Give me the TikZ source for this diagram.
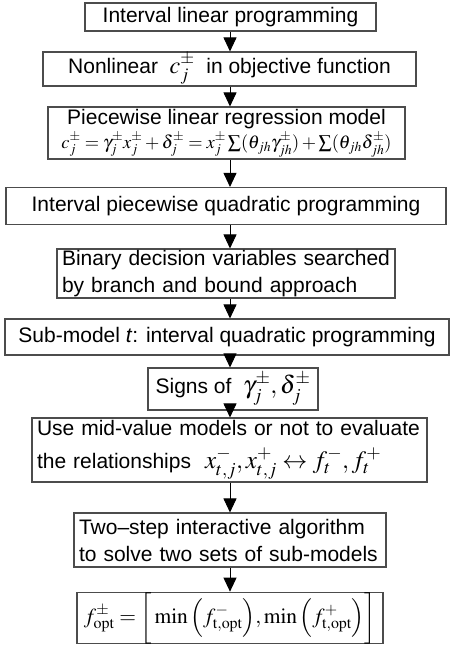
\documentclass[tikz,border=0pt]{standalone}
\usepackage{amsmath}
\usepackage{mathptmx}
\usepackage[no-math]{fontspec}
\setmainfont{Liberation Sans}
\usetikzlibrary{arrows.meta}

% larger maths inside running text
\newcommand{\bigmath}[2]{{\fontsize{#1}{#1}\selectfont$#2$}}

\begin{document}
\begin{tikzpicture}[x=1pt,y=-1pt,
  box/.style={draw=black!70, line width=1.1pt, inner sep=0pt,
              font=\fontsize{21}{27}\selectfont},
  leftbox/.style={box, align=left, inner xsep=5pt},
  link/.style={line width=0.9pt, -{Triangle[width=13pt,length=14pt]}}]
\useasboundingbox (0,0) rectangle (451,647);

% process steps, top to bottom
\node[box, minimum width=291pt, minimum height=28pt] (b1) at (230.5,17)
  {Interval linear programming};
\node[box, minimum width=373pt, minimum height=34pt] (b2) at (229.5,69)
  {Nonlinear \ \bigmath{24}{c_j^{\pm}} \ in objective function};
\node[box, minimum width=357pt, minimum height=52pt, align=center] (b3) at (226.5,133)
  {Piecewise linear regression model\\[-3pt]
   \resizebox{330pt}{!}{$c_j^{\pm}=\gamma_j^{\pm}x_j^{\pm}+\delta_j^{\pm}=x_j^{\pm}\sum(\theta_{jh}\gamma_{jh}^{\pm})+\sum(\theta_{jh}\delta_{jh}^{\pm})$}};
\node[box, minimum width=440pt, minimum height=37pt] (b4) at (226,206)
  {Interval piecewise quadratic programming};
\node[leftbox, text width=328pt, minimum height=49pt] (b5) at (226,273.5)
  {Binary decision variables searched\\by branch and bound approach};
\node[box, minimum width=444pt, minimum height=36pt] (b6) at (227,337)
  {Sub-model \textit{t}: interval quadratic programming};
\node[box, minimum width=170pt, minimum height=42pt] (b7) at (233,389)
  {Signs of \ \bigmath{25}{\gamma_j^{\pm},\delta_j^{\pm}}};
\node[leftbox, text width=385pt, minimum height=64pt] (b8) at (229.5,450)
  {Use mid-value models or not to evaluate\\[6pt]
   the relationships \ \bigmath{25}{x_{t,j}^{-},x_{t,j}^{+}\leftrightarrow f_t^{-},f_t^{+}}};
\node[leftbox, text width=302pt, minimum height=54pt] (b9) at (230,540)
  {Two--step interactive algorithm\\to solve two sets of sub-models};
\node[box, minimum width=306pt, minimum height=50pt, font=\fontsize{21.5}{26}\selectfont] (b10) at (230,618)
  {$f_{\mathrm{opt}}^{\pm}=\bigg[\min\Big(f_{\mathrm{t,opt}}^{-}\Big),\min\Big(f_{\mathrm{t,opt}}^{+}\Big)\bigg]$};

% vertical flow arrows
\coordinate (ax) at (230,0);
\foreach \a/\b in {b1/b2,b2/b3,b3/b4,b4/b5,b5/b6,b6/b7,b7/b8,b8/b9,b9/b10}
  \draw[link] (\a.south -| ax) -- (\b.north -| ax);
\end{tikzpicture}
\end{document}
